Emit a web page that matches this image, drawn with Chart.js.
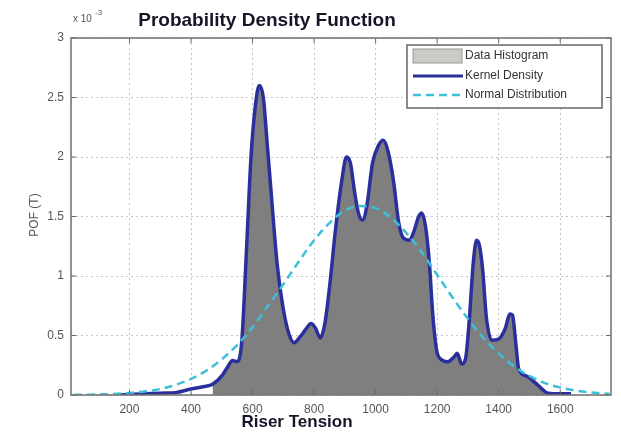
<!DOCTYPE html>
<html>
<head>
<meta charset="utf-8">
<script src="https://cdn.jsdelivr.net/npm/chart.js@4"></script>
<style>
  html, body { margin: 0; padding: 0; background: #fff; }
  #wrap { width: 621px; height: 432px; }
</style>
</head>
<body>
<div id="wrap"><canvas id="chart"></canvas></div>
<script>
// values in units of 10^-3
const kernelX = [170, 250, 300, 350, 400, 440, 470, 500, 520, 535, 550, 565, 580, 595, 610, 622, 635, 648, 662, 680,
    700, 720, 735, 755, 775, 790, 805, 820, 835, 850, 870, 890, 905, 918, 932, 945, 958, 972, 990, 1010,
    1025, 1040, 1058, 1075, 1090, 1110, 1125, 1140, 1150, 1162, 1175, 1185, 1198, 1212, 1235, 1255, 1265, 1280, 1292, 1305,
    1317, 1328, 1338, 1348, 1360, 1378, 1400, 1420, 1437, 1445, 1455, 1465, 1490, 1520, 1545, 1560, 1600, 1635];
const kernelY = [0.0, 0.01, 0.015, 0.02, 0.05, 0.07, 0.09, 0.16, 0.24, 0.29, 0.28, 0.45, 1.2, 2.0, 2.45, 2.6, 2.5, 2.1, 1.65, 1.1,
    0.72, 0.5, 0.44, 0.49, 0.56, 0.6, 0.56, 0.48, 0.6, 0.9, 1.4, 1.8, 2.0, 1.95, 1.7, 1.52, 1.47, 1.6, 1.95, 2.1,
    2.14, 2.05, 1.8, 1.45, 1.32, 1.3, 1.38, 1.5, 1.53, 1.42, 1.1, 0.7, 0.38, 0.3, 0.28, 0.32, 0.35, 0.26, 0.3, 0.65,
    1.1, 1.3, 1.25, 1.05, 0.65, 0.46, 0.47, 0.55, 0.68, 0.67, 0.45, 0.22, 0.16, 0.1, 0.04, 0.015, 0.01, 0.01];

const normalX = [20, 50, 100, 150, 200, 250, 300, 350, 400, 450, 500, 550, 600, 650, 700, 750, 800, 850, 900, 950,
    1000, 1050, 1100, 1150, 1200, 1250, 1300, 1350, 1400, 1450, 1500, 1550, 1600, 1650, 1700, 1760];
const normalY = [0.002, 0.002, 0.005, 0.009, 0.017, 0.03, 0.05, 0.085, 0.135, 0.205, 0.3, 0.42, 0.57, 0.75, 0.93, 1.12, 1.3, 1.445, 1.55, 1.588,
    1.57, 1.49, 1.36, 1.2, 1.01, 0.82, 0.64, 0.48, 0.35, 0.24, 0.16, 0.1, 0.063, 0.037, 0.021, 0.01];

// histogram covers this range of the data
const histStart = 470;
const histEnd = 1560;

const xTicks = [200, 400, 600, 800, 1000, 1200, 1400, 1600];
const yTicks = [0, 0.5, 1, 1.5, 2, 2.5, 3];

const kernelColor = '#2b2f9c';
const normalColor = '#3dbfd9';
const histColor = '#7f7f7f';
const font = "'Liberation Sans', Arial, sans-serif";

const kernelPts = kernelX.map((x, i) => ({ x: x, y: kernelY[i] }));
const normalPts = normalX.map((x, i) => ({ x: x, y: normalY[i] }));
const histPts = kernelPts.filter(p => p.x >= histStart && p.x <= histEnd);

const decor = {
    id: 'decor',
    afterDraw(chart) {
        const ctx = chart.ctx;
        const a = chart.chartArea;
        const xs = chart.scales.x, ys = chart.scales.y;
        ctx.save();
        // inward ticks
        ctx.strokeStyle = '#666';
        ctx.lineWidth = 1;
        ctx.beginPath();
        xTicks.forEach(v => {
            const px = xs.getPixelForValue(v);
            ctx.moveTo(px, a.bottom); ctx.lineTo(px, a.bottom - 5);
            ctx.moveTo(px, a.top); ctx.lineTo(px, a.top + 5);
        });
        yTicks.forEach(v => {
            const py = ys.getPixelForValue(v);
            ctx.moveTo(a.left, py); ctx.lineTo(a.left + 5, py);
            ctx.moveTo(a.right, py); ctx.lineTo(a.right - 5, py);
        });
        ctx.stroke();
        // box
        ctx.strokeStyle = '#777';
        ctx.lineWidth = 1.6;
        ctx.strokeRect(a.left, a.top, a.right - a.left, a.bottom - a.top);

        // title and labels
        ctx.fillStyle = '#16162a';
        ctx.font = 'bold 19px ' + font;
        ctx.textAlign = 'center';
        ctx.textBaseline = 'alphabetic';
        ctx.fillText('Probability Density Function', 267, 26);
        ctx.font = 'bold 17px ' + font;
        ctx.fillText('Riser Tension', 297, 427);

        ctx.fillStyle = '#555';
        ctx.font = '10px ' + font;
        ctx.textAlign = 'left';
        ctx.fillText('x 10', 73, 22);
        ctx.font = '8px ' + font;
        ctx.fillText('-3', 95, 15);

        ctx.save();
        ctx.translate(38, 215);
        ctx.rotate(-Math.PI / 2);
        ctx.font = '12px ' + font;
        ctx.textAlign = 'center';
        ctx.fillStyle = '#555';
        ctx.fillText('POF (T)', 0, 0);
        ctx.restore();

        // legend
        const lx = 407, ly = 45, lw = 195, lh = 63;
        ctx.fillStyle = '#fff';
        ctx.fillRect(lx, ly, lw, lh);
        ctx.strokeStyle = '#666';
        ctx.lineWidth = 1.5;
        ctx.strokeRect(lx, ly, lw, lh);
        const rows = [56, 76, 95];
        ctx.fillStyle = '#cbcac4';
        ctx.fillRect(413, rows[0] - 7, 49, 14);
        ctx.strokeStyle = '#999';
        ctx.lineWidth = 1;
        ctx.strokeRect(413, rows[0] - 7, 49, 14);
        ctx.strokeStyle = kernelColor;
        ctx.lineWidth = 3;
        ctx.beginPath(); ctx.moveTo(413, rows[1]); ctx.lineTo(463, rows[1]); ctx.stroke();
        ctx.strokeStyle = normalColor;
        ctx.lineWidth = 2.5;
        ctx.setLineDash([8, 5]);
        ctx.beginPath(); ctx.moveTo(413, rows[2]); ctx.lineTo(463, rows[2]); ctx.stroke();
        ctx.setLineDash([]);
        ctx.fillStyle = '#333';
        ctx.font = '12px ' + font;
        ctx.textBaseline = 'middle';
        ctx.textAlign = 'left';
        ctx.fillText('Data Histogram', 465, rows[0]);
        ctx.fillText('Kernel Density', 465, rows[1]);
        ctx.fillText('Normal Distribution', 465, rows[2]);
        ctx.restore();
    }
};

new Chart(document.getElementById('chart'), {
    type: 'line',
    data: {
        datasets: [
            {
                label: 'Data Histogram',
                data: histPts,
                backgroundColor: histColor,
                borderWidth: 0,
                fill: 'origin',
                pointRadius: 0,
                cubicInterpolationMode: 'monotone',
                order: 3
            },
            {
                label: 'Kernel Density',
                data: kernelPts,
                borderColor: kernelColor,
                borderWidth: 3.5,
                fill: false,
                pointRadius: 0,
                cubicInterpolationMode: 'monotone',
                order: 2
            },
            {
                label: 'Normal Distribution',
                data: normalPts,
                borderColor: normalColor,
                borderWidth: 2.5,
                borderDash: [8, 5],
                fill: false,
                pointRadius: 0,
                cubicInterpolationMode: 'monotone',
                order: 1
            }
        ]
    },
    options: {
        responsive: true,
        maintainAspectRatio: false,
        animation: false,
        layout: { padding: { top: 38, right: 10, left: 0, bottom: 0 } },
        plugins: {
            legend: { display: false },
            tooltip: { enabled: false }
        },
        scales: {
            x: {
                type: 'linear',
                min: 10,
                max: 1765,
                afterBuildTicks: s => { s.ticks = xTicks.map(v => ({ value: v })); },
                afterFit: s => { s.height = 37; },
                grid: { color: '#c4c4c4', drawTicks: false },
                border: { display: false, dash: [2, 3] },
                ticks: { color: '#555', padding: 7, font: { family: font, size: 12 }, callback: v => String(v) }
            },
            y: {
                min: 0,
                max: 3,
                afterBuildTicks: s => { s.ticks = yTicks.map(v => ({ value: v })); },
                afterFit: s => { s.width = 71; },
                grid: { color: '#c4c4c4', drawTicks: false },
                border: { display: false, dash: [2, 3] },
                ticks: { color: '#555', padding: 7, font: { family: font, size: 12 }, callback: v => String(v) }
            }
        }
    },
    plugins: [decor]
});
</script>
</body>
</html>
